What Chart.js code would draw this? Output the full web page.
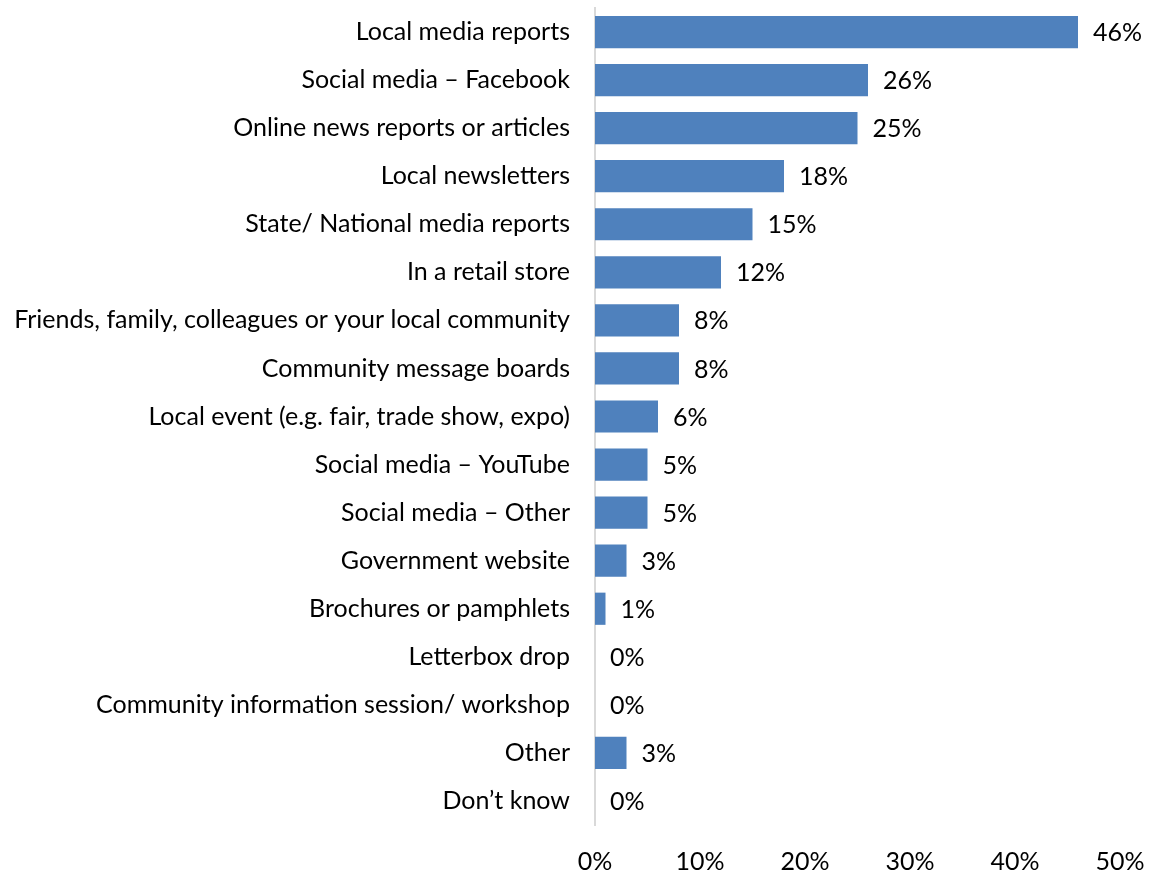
<!DOCTYPE html>
<html>
<head>
<meta charset="utf-8">
<script src="https://cdn.jsdelivr.net/npm/chart.js@4.4.1/dist/chart.umd.min.js"></script>
<style>
  html, body { margin: 0; padding: 0; background: #fff; }
  #wrap { width: 1153px; height: 874px; }
</style>
</head>
<body>
<div id="wrap"><canvas id="c" width="1153" height="874"></canvas></div>
<script>
const categories = [
  'Local media reports',
  'Social media \u2013 Facebook',
  'Online news reports or articles',
  'Local newsletters',
  'State/ National media reports',
  'In a retail store',
  'Friends, family, colleagues or your local community',
  'Community message boards',
  'Local event (e.g. fair, trade show, expo)',
  'Social media \u2013 YouTube',
  'Social media \u2013 Other',
  'Government website',
  'Brochures or pamphlets',
  'Letterbox drop',
  'Community information session/ workshop',
  'Other',
  'Don\u2019t know'
];
const shares = [46, 26, 25, 18, 15, 12, 8, 8, 6, 5, 5, 3, 1, 0, 0, 3, 0];
const xTicks = [0, 10, 20, 30, 40, 50];

const FONT = 'Lato';
const FONT_SIZE = 25;

// writes the percentage just past the end of each bar
const barValueLabels = {
  id: 'barValueLabels',
  afterDatasetsDraw(chart) {
    const ctx = chart.ctx;
    const meta = chart.getDatasetMeta(0);
    ctx.save();
    ctx.font = FONT_SIZE + 'px ' + FONT;
    ctx.fillStyle = '#000';
    ctx.textAlign = 'left';
    ctx.textBaseline = 'middle';
    meta.data.forEach((bar, i) => {
      ctx.fillText(shares[i] + '%', bar.x + 15, bar.y + 1);
    });
    ctx.restore();
  }
};

new Chart(document.getElementById('c'), {
  type: 'bar',
  data: {
    labels: categories,
    datasets: [{
      data: shares,
      backgroundColor: '#4f81bd',
      borderWidth: 0,
      categoryPercentage: 0.67,
      barPercentage: 1.0
    }]
  },
  options: {
    indexAxis: 'y',
    responsive: false,
    animation: false,
    devicePixelRatio: 1,
    layout: { padding: { top: 8, right: 33, left: 0, bottom: 0 } },
    plugins: { legend: { display: false }, tooltip: { enabled: false } },
    scales: {
      x: {
        min: 0,
        max: 50,
        afterBuildTicks(scale) { scale.ticks = xTicks.map(v => ({ value: v })); },
        afterFit(scale) {
          scale.height = 49;
          scale.paddingLeft = 0;
          scale.paddingRight = 0;
        },
        grid: { display: false, drawTicks: false },
        border: { display: false },
        ticks: {
          padding: 22,
          color: '#000',
          font: { family: FONT, size: FONT_SIZE },
          callback: v => v + '%',
          maxRotation: 0
        }
      },
      y: {
        afterFit(scale) {
          scale.width = 595;
          scale.paddingTop = 0;
          scale.paddingBottom = 0;
        },
        grid: { display: false, drawTicks: false },
        border: { display: true, color: '#d9d9d9', width: 2 },
        ticks: {
          padding: 25,
          color: '#000',
          font: { family: FONT, size: FONT_SIZE },
          autoSkip: false
        }
      }
    }
  },
  plugins: [barValueLabels]
});
</script>
</body>
</html>
